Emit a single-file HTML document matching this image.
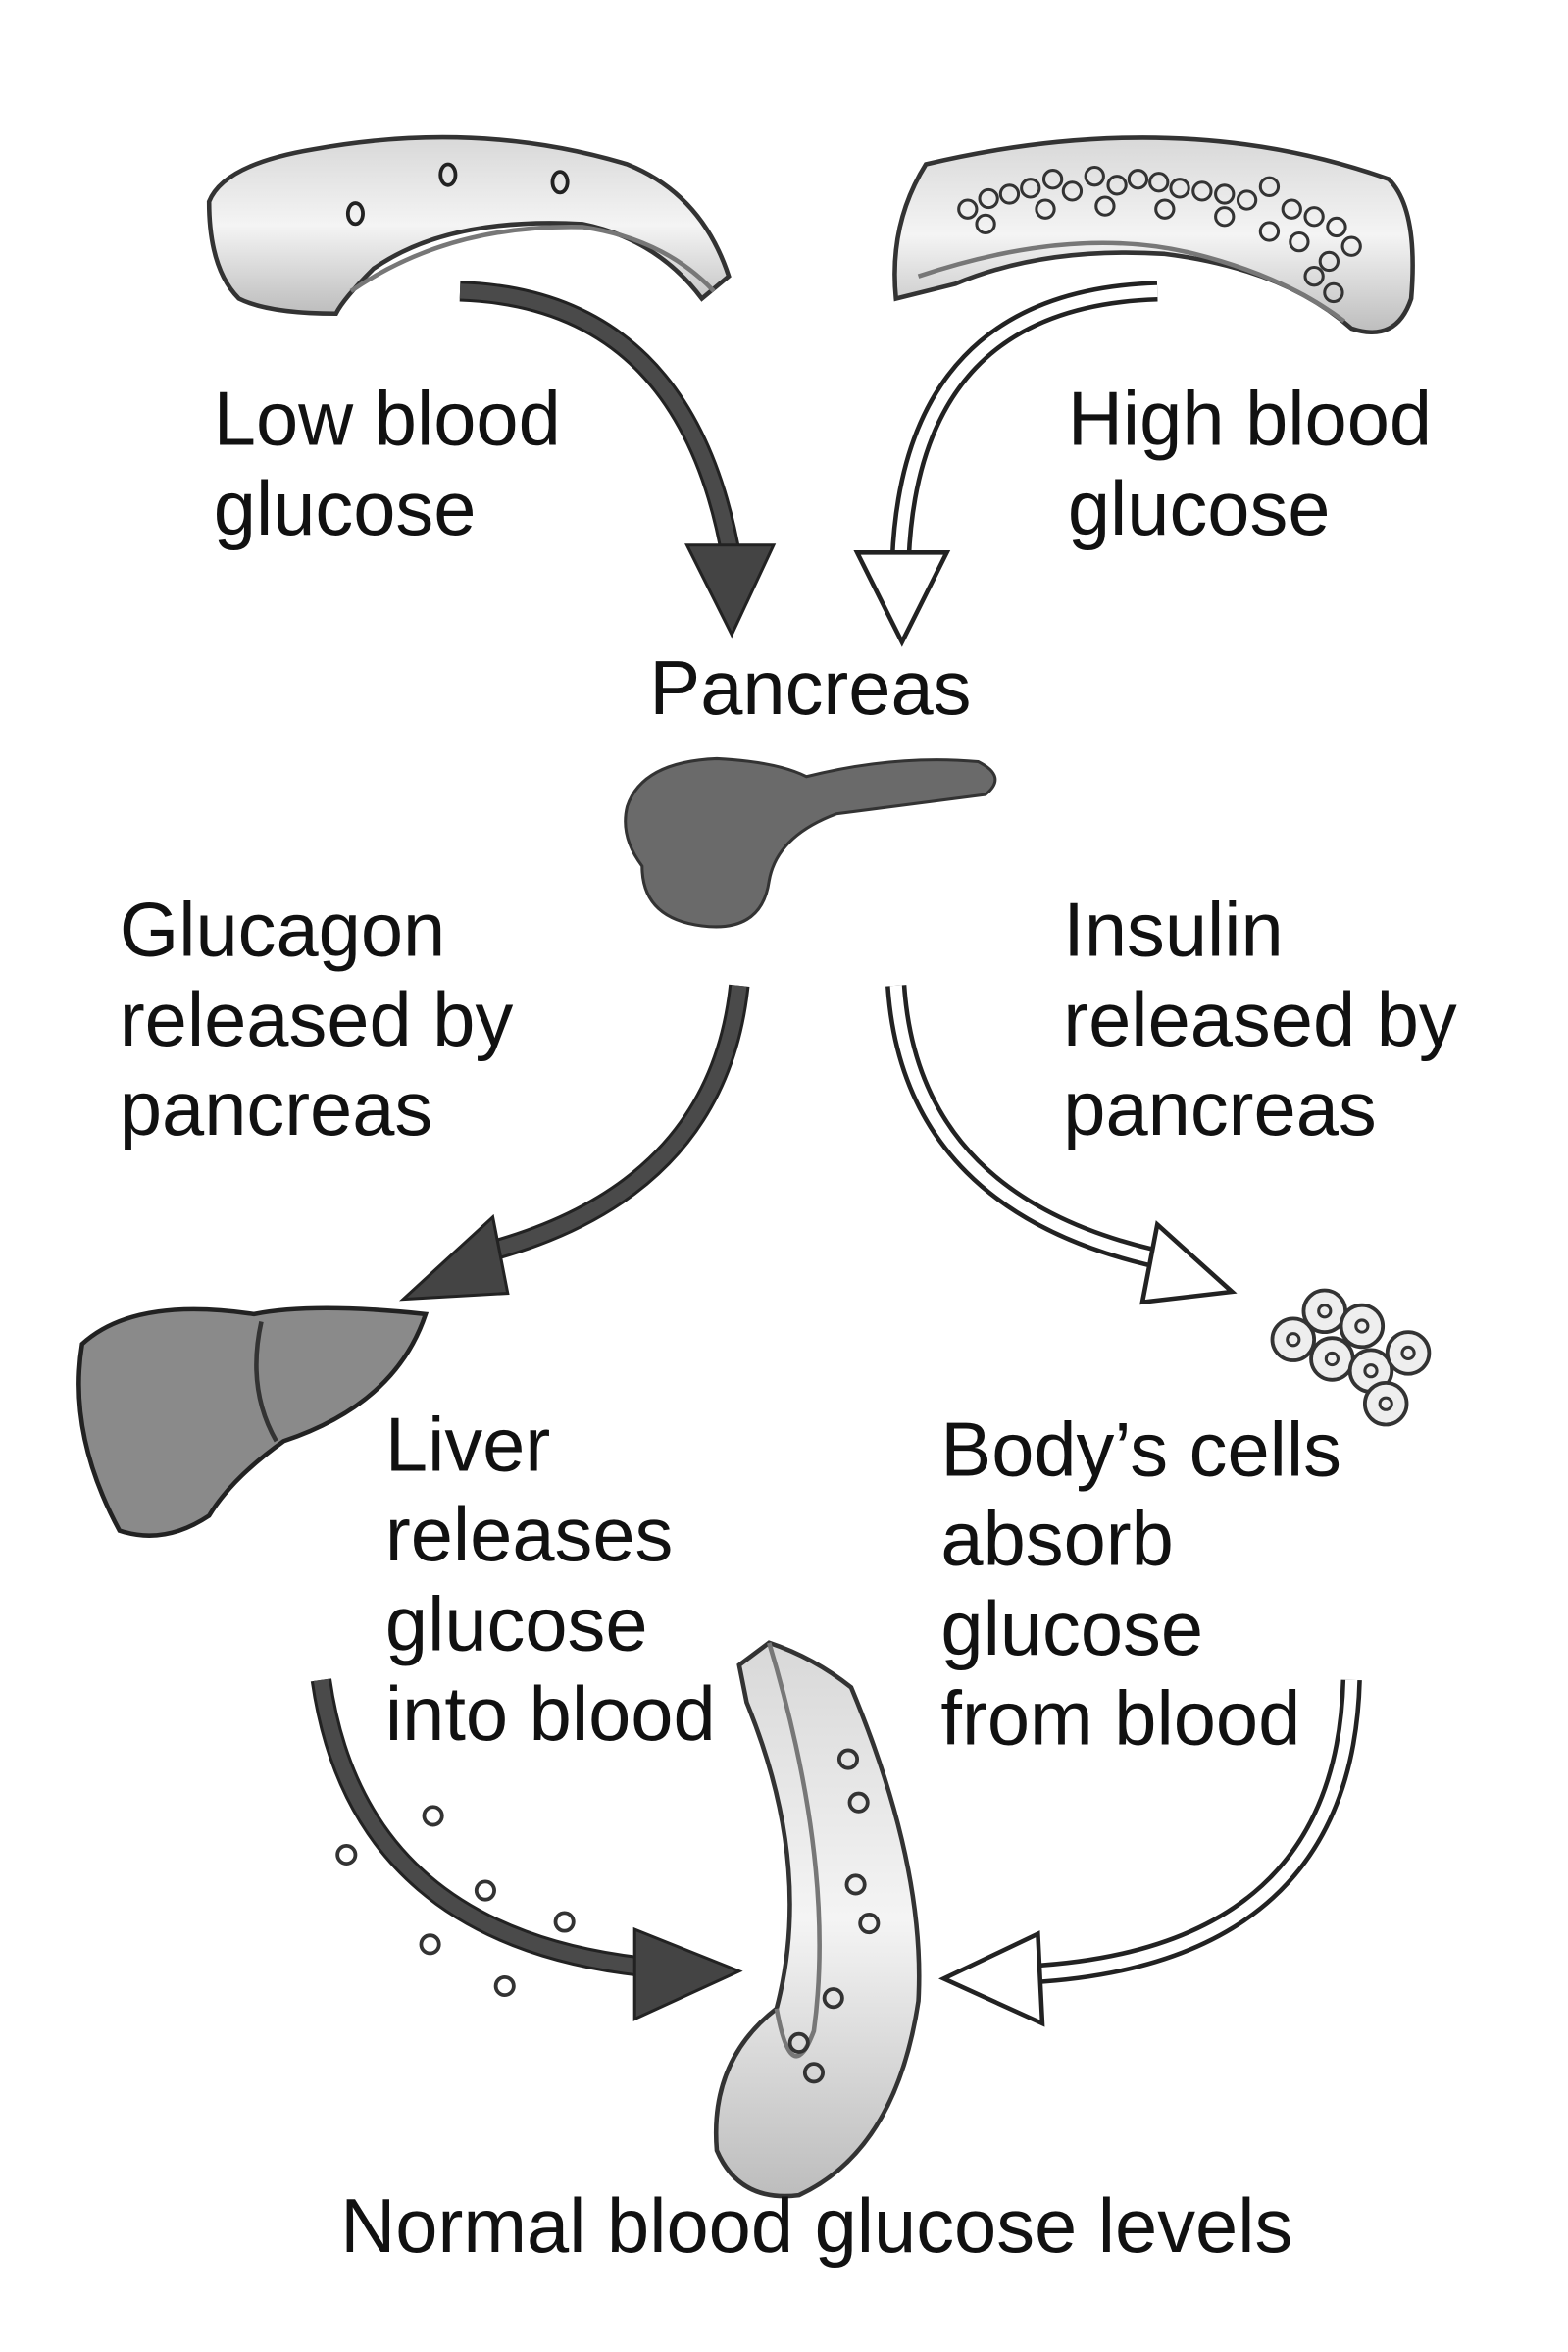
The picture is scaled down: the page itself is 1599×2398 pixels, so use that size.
<!DOCTYPE html>
<html><head><meta charset="utf-8"><style>
html,body{margin:0;padding:0;background:#fff;}
svg{display:block;}
text{font-family:"Liberation Sans",Arial,sans-serif;font-size:51px;fill:#111;}
</style></head><body>
<svg width="1599" height="2398" viewBox="0 0 1050 1575" preserveAspectRatio="none" xmlns="http://www.w3.org/2000/svg">
<defs>
<linearGradient id="v" x1="0" y1="0" x2="0" y2="1"><stop offset="0" stop-color="#d8d8d8"/><stop offset="0.5" stop-color="#f4f4f4"/><stop offset="1" stop-color="#bdbdbd"/></linearGradient>
</defs>
<!-- top-left vessel -->
<path d="M140 135 Q150 110 210 100 Q320 80 420 110 Q470 130 488 185 L470 200 Q440 160 390 150 Q300 145 250 180 Q230 200 225 210 Q180 210 160 200 Q140 180 140 135 Z" fill="url(#v)" stroke="#333" stroke-width="3"/>
<path d="M235 195 Q300 150 390 152 Q445 160 478 195" fill="none" stroke="#777" stroke-width="3"/>
<g fill="none" stroke="#222" stroke-width="2.5"><ellipse cx="300" cy="117" rx="5" ry="7"/><ellipse cx="375" cy="122" rx="5" ry="7"/><ellipse cx="238" cy="143" rx="5" ry="7"/></g>
<!-- top-right vessel -->
<path d="M620 110 Q790 70 930 120 Q950 140 945 200 Q935 230 905 220 Q860 180 780 170 Q700 165 640 190 L600 200 Q595 150 620 110 Z" fill="url(#v)" stroke="#333" stroke-width="3"/>
<path d="M615 185 Q720 150 800 170 Q860 185 900 215" fill="none" stroke="#777" stroke-width="3"/>
<g fill="none" stroke="#333" stroke-width="2">
<circle cx="648" cy="140" r="6"/><circle cx="662" cy="133" r="6"/><circle cx="676" cy="130" r="6"/><circle cx="690" cy="126" r="6"/><circle cx="705" cy="120" r="6"/><circle cx="718" cy="128" r="6"/><circle cx="733" cy="118" r="6"/><circle cx="748" cy="124" r="6"/><circle cx="762" cy="120" r="6"/><circle cx="776" cy="122" r="6"/><circle cx="790" cy="126" r="6"/><circle cx="805" cy="128" r="6"/><circle cx="820" cy="130" r="6"/><circle cx="835" cy="134" r="6"/><circle cx="850" cy="125" r="6"/><circle cx="865" cy="140" r="6"/><circle cx="880" cy="145" r="6"/><circle cx="895" cy="152" r="6"/><circle cx="905" cy="165" r="6"/><circle cx="890" cy="175" r="6"/><circle cx="880" cy="185" r="6"/><circle cx="660" cy="150" r="6"/><circle cx="700" cy="140" r="6"/><circle cx="740" cy="138" r="6"/><circle cx="780" cy="140" r="6"/><circle cx="820" cy="145" r="6"/><circle cx="850" cy="155" r="6"/><circle cx="870" cy="162" r="6"/><circle cx="893" cy="196" r="6"/>
</g>
<!-- top arrows -->
<path d="M308 195 Q460 200 490 375" fill="none" stroke="#222" stroke-width="14"/>
<path d="M308 195 Q460 200 490 375" fill="none" stroke="#4a4a4a" stroke-width="10"/>
<polygon points="460,365 518,365 490,425" fill="#444" stroke="#222" stroke-width="2"/>
<path d="M775 195 Q610 200 603 375" fill="none" stroke="#222" stroke-width="14"/>
<path d="M775 195 Q610 200 603 375" fill="none" stroke="#fff" stroke-width="8"/>
<polygon points="574,370 634,370 604,430" fill="#fff" stroke="#222" stroke-width="3"/>
<!-- pancreas -->
<path d="M420 540 Q430 510 480 508 Q520 510 540 520 Q600 505 655 510 Q675 520 660 532 Q600 540 560 545 Q520 560 515 590 Q510 625 470 620 Q430 615 430 580 Q415 560 420 540 Z" fill="#6a6a6a" stroke="#333" stroke-width="2"/>
<!-- middle arrows -->
<path d="M495 660 Q480 800 320 840" fill="none" stroke="#222" stroke-width="14"/>
<path d="M495 660 Q480 800 320 840" fill="none" stroke="#4a4a4a" stroke-width="10"/>
<polygon points="330,815 270,870 340,866" fill="#444" stroke="#222" stroke-width="2"/>
<path d="M600 660 Q610 810 785 845" fill="none" stroke="#222" stroke-width="14"/>
<path d="M600 660 Q610 810 785 845" fill="none" stroke="#fff" stroke-width="8"/>
<polygon points="775,820 825,865 765,872" fill="#fff" stroke="#222" stroke-width="3"/>
<!-- liver -->
<path d="M55 900 Q90 868 170 880 Q210 872 285 880 Q265 940 190 965 Q155 990 140 1015 Q110 1035 80 1025 Q45 960 55 900 Z" fill="#8a8a8a" stroke="#222" stroke-width="3"/>
<path d="M175 885 Q165 930 185 965" fill="none" stroke="#333" stroke-width="3"/>
<!-- cells -->
<g fill="#eee" stroke="#333" stroke-width="2.5">
<circle cx="866" cy="897" r="14"/><circle cx="887" cy="878" r="14"/><circle cx="912" cy="888" r="14"/><circle cx="892" cy="910" r="14"/><circle cx="918" cy="918" r="14"/><circle cx="943" cy="906" r="14"/><circle cx="928" cy="940" r="14"/>
</g>
<g fill="none" stroke="#333" stroke-width="2"><circle cx="866" cy="897" r="4"/><circle cx="887" cy="878" r="4"/><circle cx="912" cy="888" r="4"/><circle cx="892" cy="910" r="4"/><circle cx="918" cy="918" r="4"/><circle cx="943" cy="906" r="4"/><circle cx="928" cy="940" r="4"/></g>
<!-- bottom vessel -->
<path d="M495 1115 L515 1100 Q545 1110 570 1130 Q620 1250 615 1340 Q600 1440 535 1470 Q495 1475 480 1440 Q475 1380 520 1345 Q545 1250 500 1140 Z" fill="url(#v)" stroke="#333" stroke-width="3"/>
<path d="M515 1100 Q560 1250 545 1360 Q530 1400 520 1345" fill="none" stroke="#777" stroke-width="3"/>
<g fill="none" stroke="#333" stroke-width="2.5"><circle cx="568" cy="1178" r="6"/><circle cx="575" cy="1207" r="6"/><circle cx="573" cy="1262" r="6"/><circle cx="582" cy="1288" r="6"/><circle cx="558" cy="1338" r="6"/><circle cx="535" cy="1368" r="6"/><circle cx="545" cy="1388" r="6"/></g>
<!-- scattered glucose -->
<g fill="none" stroke="#333" stroke-width="2.5"><circle cx="290" cy="1216" r="6"/><circle cx="232" cy="1242" r="6"/><circle cx="325" cy="1266" r="6"/><circle cx="378" cy="1287" r="6"/><circle cx="288" cy="1302" r="6"/><circle cx="338" cy="1330" r="6"/></g>
<!-- bottom arrows -->
<path d="M215 1125 Q240 1300 440 1318" fill="none" stroke="#222" stroke-width="14"/>
<path d="M215 1125 Q240 1300 440 1318" fill="none" stroke="#4a4a4a" stroke-width="10"/>
<polygon points="425,1292 495,1320 425,1352" fill="#444" stroke="#222" stroke-width="2"/>
<path d="M905 1125 Q900 1310 690 1322" fill="none" stroke="#222" stroke-width="14"/>
<path d="M905 1125 Q900 1310 690 1322" fill="none" stroke="#fff" stroke-width="8"/>
<polygon points="695,1295 632,1325 698,1355" fill="#fff" stroke="#222" stroke-width="3"/>
<!-- text -->
<text x="143" y="298">Low blood</text><text x="143" y="358">glucose</text>
<text x="715" y="298">High blood</text><text x="715" y="358">glucose</text>
<text x="435" y="478">Pancreas</text>
<text x="80" y="640">Glucagon</text><text x="80" y="700">released by</text><text x="80" y="760">pancreas</text>
<text x="712" y="640">Insulin</text><text x="712" y="700">released by</text><text x="712" y="760">pancreas</text>
<text x="258" y="985">Liver</text><text x="258" y="1045">releases</text><text x="258" y="1105">glucose</text><text x="258" y="1165">into blood</text>
<text x="630" y="988">Body’s cells</text><text x="630" y="1048">absorb</text><text x="630" y="1108">glucose</text><text x="630" y="1168">from blood</text>
<text x="228" y="1508">Normal blood glucose levels</text>
</svg>
</body></html>
